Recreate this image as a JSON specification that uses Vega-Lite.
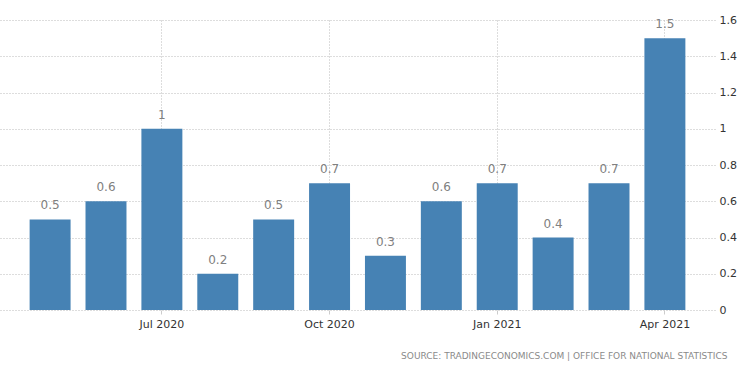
{
  "$schema": "https://vega.github.io/schema/vega-lite/v6.json",
  "width": 715,
  "height": 290,
  "padding": {"left": 0, "top": 14, "right": 0, "bottom": 0},
  "background": "white",
  "config": {
    "view": {"stroke": null},
    "font": "DejaVu Sans"
  },
  "title": {
    "text": "SOURCE: TRADINGECONOMICS.COM  |  OFFICE FOR NATIONAL STATISTICS",
    "orient": "bottom",
    "anchor": "end",
    "fontSize": 9,
    "fontWeight": "normal",
    "color": "#8a8a8a",
    "font": "DejaVu Sans",
    "offset": 23,
    "dx": -9
  },
  "data": {
    "values": [
      {"month": "May 2020", "value": 0.5},
      {"month": "Jun 2020", "value": 0.6},
      {"month": "Jul 2020", "value": 1},
      {"month": "Aug 2020", "value": 0.2},
      {"month": "Sep 2020", "value": 0.5},
      {"month": "Oct 2020", "value": 0.7},
      {"month": "Nov 2020", "value": 0.3},
      {"month": "Dec 2020", "value": 0.6},
      {"month": "Jan 2021", "value": 0.7},
      {"month": "Feb 2021", "value": 0.4},
      {"month": "Mar 2021", "value": 0.7},
      {"month": "Apr 2021", "value": 1.5}
    ]
  },
  "encoding": {
    "x": {
      "field": "month",
      "type": "ordinal",
      "sort": null,
      "scale": {"paddingInner": 0.267, "paddingOuter": 0.53},
      "axis": {
        "title": null,
        "values": ["Jul 2020", "Oct 2020", "Jan 2021", "Apr 2021"],
        "bandPosition": 0.5,
        "labelAngle": 0,
        "labelFontSize": 11,
        "labelColor": "#333333",
        "labelPadding": 4,
        "domain": false,
        "ticks": true,
        "tickSize": 4,
        "tickColor": "#cccccc",
        "grid": true,
        "gridColor": "#bbbbbb",
        "gridDash": [1, 2],
        "gridWidth": 1
      }
    },
    "y": {
      "field": "value",
      "type": "quantitative",
      "scale": {"domain": [0, 1.6], "nice": false},
      "axis": {
        "orient": "right",
        "title": null,
        "values": [0, 0.2, 0.4, 0.6, 0.8, 1, 1.2, 1.4, 1.6],
        "format": "~g",
        "labelFontSize": 11,
        "labelColor": "#333333",
        "labelPadding": 4,
        "domain": false,
        "ticks": false,
        "grid": true,
        "gridColor": "#bbbbbb",
        "gridDash": [1, 2],
        "gridWidth": 1
      }
    }
  },
  "layer": [
    {
      "mark": {"type": "bar", "color": "#4682b4"}
    },
    {
      "mark": {"type": "text", "baseline": "bottom", "dy": -7, "fontSize": 12, "color": "#808080"},
      "encoding": {
        "text": {"field": "value", "type": "quantitative", "format": "~g"}
      }
    }
  ]
}
